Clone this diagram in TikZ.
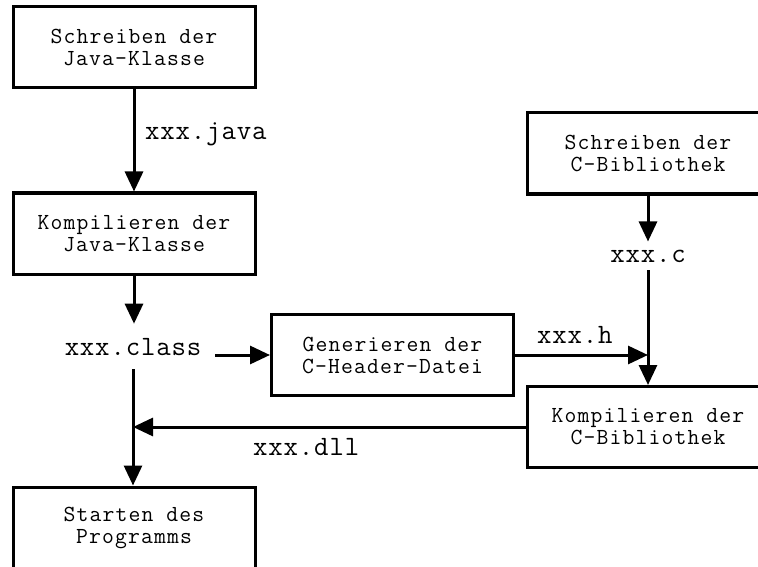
\documentclass[tikz,border=0pt]{standalone}
\usepackage{fontspec}
\newfontfamily\boxfont[LetterSpace=5]{Latin Modern Mono}
\newfontfamily\lblfont[LetterSpace=3]{Latin Modern Mono}
\usetikzlibrary{arrows.meta}
\tikzset{
  stepbox/.style={draw=black, line width=3pt, minimum width=242pt, minimum height=81pt,
    inner sep=0pt, align=center, font=\boxfont\fontsize{23}{22}\selectfont},
  lbl/.style={inner sep=0pt, font=\lblfont\fontsize{28}{30}\selectfont},
  conn/.style={line width=3pt, -{Triangle[length=20pt,width=18pt]}},
}
\begin{document}
\begin{tikzpicture}[x=1pt,y=1pt]
\useasboundingbox (0,0) rectangle (758,-567);
\clip (0,0) rectangle (758,-567);
% boxes
\node[stepbox] (b1) at (134,-47.5) {Schreiben der\\Java-Klasse};
\node[stepbox] (b2) at (134,-233.5) {Kompilieren der\\Java-Klasse};
\node[stepbox] (gen) at (392.5,-355) {Generieren der\\C-Header-Datei};
\node[stepbox] (b3) at (648,-153.5) {Schreiben der\\C-Bibliothek};
\node[stepbox] (b4) at (648,-427) {Kompilieren der\\C-Bibliothek};
\node[stepbox] (b5) at (134,-527.5) {Starten des\\Programms};
% file labels
\node[lbl, inner xsep=14pt, inner ysep=14pt, anchor=base] (cls) at (133,-355) {xxx.class};
\node[lbl, inner ysep=8pt, anchor=base] (xc) at (648,-262) {xxx.c};
\node[lbl, anchor=base west] (ljava) at (145,-140) {xxx.java};
\node[lbl, anchor=base west] (lh) at (537,-343) {xxx.h};
\node[lbl, anchor=base west] (ldll) at (253,-455) {xxx.dll};
\coordinate (jh) at (xc.south |- gen.east);
\coordinate (jd) at (cls.south |- b4.west);
% connectors
\draw[conn] (b1.south) -- (b2.north);
\draw[conn] (b2.south) -- (b2.south |- cls.north);
\draw[conn] (cls.east |- gen.west) -- (gen.west);
\draw[conn] (b3.south) -- (xc.north -| b3.south);
\draw[conn] (xc.south) -- (b4.north -| xc.south);
\draw[conn] (gen.east) -- (jh);
\draw[conn] (b4.west) -- (jd);
\draw[conn] (cls.south) -- (b5.north -| cls.south);
\end{tikzpicture}
\end{document}
